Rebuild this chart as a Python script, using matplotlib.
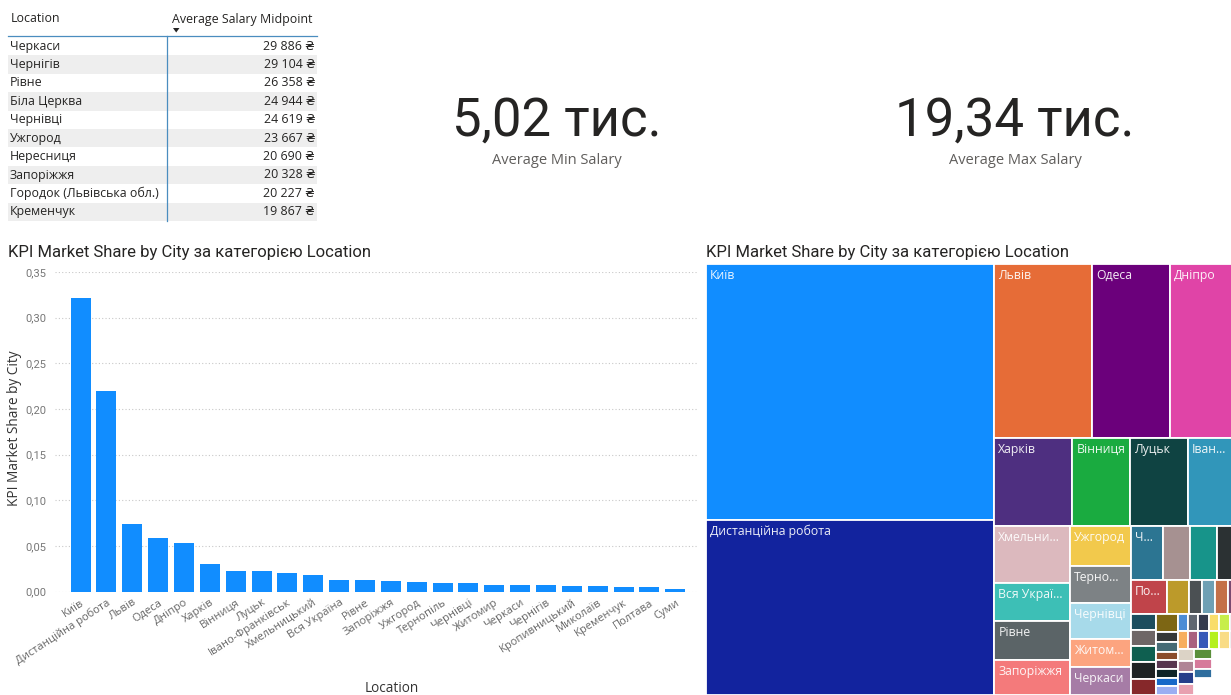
import matplotlib
matplotlib.use("Agg")
import matplotlib.pyplot as plt
from matplotlib.patches import Rectangle, Polygon

# ---------------- data ----------------
table_locations = ["Черкаси", "Чернігів", "Рівне", "Біла Церква", "Чернівці",
                   "Ужгород", "Нересниця", "Запоріжжя", "Городок (Львівська обл.)",
                   "Кременчук"]
table_salary = [29886, 29104, 26358, 24944, 24619, 23667, 20690, 20328, 20227, 19867]

avg_min_salary = 5020
avg_max_salary = 19340

bar_cities = ["Київ", "Дистанційна робота", "Львів", "Одеса", "Дніпро", "Харків",
              "Вінниця", "Луцьк", "Івано-Франківськ", "Хмельницький", "Вся Україна",
              "Рівне", "Запоріжжя", "Ужгород", "Тернопіль", "Чернівці", "Житомир",
              "Черкаси", "Чернігів", "Кропивницький", "Миколаїв", "Кременчук",
              "Полтава", "Суми"]
bar_share = [0.3215, 0.220, 0.074, 0.059, 0.053, 0.030, 0.0223, 0.0223, 0.020,
             0.0186, 0.0128, 0.0128, 0.0116, 0.0106, 0.0096, 0.0096, 0.0074,
             0.0074, 0.0074, 0.0064, 0.0064, 0.0053, 0.0053, 0.0032]

other_cities = ["Біла Церква", "Кривий Ріг", "Бровари", "Ірпінь", "Мукачево",
                "Херсон", "Кам'янець-Подільський", "Дрогобич", "Бориспіль", "Ковель",
                "Нересниця", "Городок (Львівська обл.)", "Стрий", "Умань", "Бердичів",
                "Буча", "Вишгород", "Обухів", "Фастів", "Коломия", "Калуш",
                "Нововолинськ", "Червоноград", "Самбір", "Трускавець", "Ніжин",
                "Прилуки", "Шостка", "Конотоп", "Охтирка", "Олександрія",
                "Світловодськ", "Кременець", "Чортків", "Хуст", "Берегове", "Ізмаїл",
                "Чорноморськ", "Южне", "Павлоград", "Кам'янське", "Нікополь",
                "Жовті Води", "Бахмут", "Лубни", "Мелітополь"]
other_share = [0.0019, 0.0019, 0.0019, 0.0018, 0.0018, 0.0018, 0.0018, 0.0018,
               0.0018, 0.0017, 0.0009, 0.0009, 0.0008, 0.0008, 0.0008, 0.0008,
               0.0008, 0.0008, 0.0008, 0.0008, 0.0008, 0.0008, 0.0008, 0.0008,
               0.0008, 0.0008, 0.0008, 0.0008, 0.0008, 0.0008, 0.0008, 0.0008,
               0.0008, 0.0008, 0.0008, 0.0007, 0.0007, 0.0007, 0.0007, 0.0007,
               0.0007, 0.0007, 0.0007, 0.0007, 0.0007, 0.0007]

tree_colors = ["#118DFF", "#12239E", "#E66C37", "#6B007B", "#E044A7", "#4E2F80",
               "#1AAB40", "#0F4342", "#3196BA", "#DCB9BE", "#3DBFB6", "#5B6467",
               "#F47A7B", "#F2C94C", "#7D8285", "#A7DAEA", "#FCA47F", "#A67CA6",
               "#2C7592", "#A69191", "#17948A", "#2B3133", "#C0444A", "#BC9A2A",
               "#4B5053", "#6FA0B4", "#C47048", "#7A4A70", "#1D4D5E", "#6E6666",
               "#0F5F50", "#1E2224", "#86282A", "#7D6614", "#353838", "#456B75",
               "#8A4C2C", "#57354F", "#0E2428", "#1769C8", "#9BAEF2", "#4A8CD6",
               "#5F6670", "#343B4E", "#F9DD6A", "#C7EE4A", "#8A8C8E", "#F7AE5E",
               "#A9607F", "#3558B8", "#B4F01E", "#F9DC86", "#6A6E74", "#DCD3C6",
               "#B08496", "#263E8A", "#E8A0B0", "#5A8F3A", "#D67A9B", "#2F6E9E"]

TITLE = "KPI Market Share by City за категорією Location"

# ---------------- style ----------------
UI_FONT = ["Open Sans", "DejaVu Sans"]
DIN_FONT = ["Roboto", "DejaVu Sans"]
plt.rcParams["font.family"] = UI_FONT

W, H = 1231, 695
fig = plt.figure(figsize=(W / 100, H / 100), dpi=100)
fig.patch.set_facecolor("white")


def fx(px):
    return px / W


def fy(py):
    return 1 - py / H


# ---------------- table ----------------
row_top, row_h = 37.0, 18.4
tbl_left, tbl_right, tbl_split = 8, 317, 166.5
TFS = 8.9
for i, (loc, sal) in enumerate(zip(table_locations, table_salary)):
    top = row_top + row_h * i
    if i % 2 == 1:
        fig.add_artist(Rectangle((fx(tbl_left), fy(top + row_h)),
                                 fx(tbl_right - tbl_left), row_h / H,
                                 transform=fig.transFigure, facecolor="#EEEEEE",
                                 edgecolor="none", zorder=0))
    yc = fy(top + row_h / 2)
    fig.text(fx(10), yc, loc, fontsize=TFS, color="#252423", ha="left", va="center")
    sal_txt = f"{sal:,}".replace(",", " ") + " ₴"
    fig.text(fx(315), yc, sal_txt, fontsize=TFS, color="#252423", ha="right",
             va="center")

fig.text(fx(11), fy(19), "Location", fontsize=TFS, color="#252423", ha="left",
         va="center")
fig.text(fx(312), fy(19), "Average Salary Midpoint", fontsize=TFS, color="#252423",
         ha="right", va="center")
fig.add_artist(plt.Line2D([fx(tbl_left), fx(tbl_right)], [fy(35.5), fy(35.5)],
                          transform=fig.transFigure, color="#4A8DBF", lw=0.9))
fig.add_artist(plt.Line2D([fx(tbl_split), fx(tbl_split)],
                          [fy(35.5), fy(row_top + row_h * len(table_locations))],
                          transform=fig.transFigure, color="#4A8DBF", lw=0.9))
fig.add_artist(Polygon([(fx(173), fy(28)), (fx(179.5), fy(28)), (fx(176.2), fy(32.5))],
                       closed=True, transform=fig.transFigure, facecolor="#252423",
                       edgecolor="none"))

# ---------------- KPI cards ----------------
def thousands(v):
    return f"{v / 1000:.2f}".replace(".", ",") + " тис."


for cx, val, lab in [(557, avg_min_salary, "Average Min Salary"),
                     (1015, avg_max_salary, "Average Max Salary")]:
    fig.text(fx(cx), fy(121), thousands(val), fontsize=38, color="#252423",
             ha="center", va="center", family=DIN_FONT)
    fig.text(fx(cx), fy(160), lab, fontsize=10.5, color="#605E5C", ha="center",
             va="center")

# ---------------- bar chart ----------------
fig.text(fx(8), fy(252), TITLE, fontsize=12, color="#252423", ha="left",
         va="center", family=DIN_FONT)

ax = fig.add_axes([fx(55), fy(591.7), fx(642), 319.7 / H])
xs = list(range(len(bar_cities)))
ax.bar(xs, bar_share, width=0.77, color="#118DFF", zorder=2)
ax.set_xlim(-0.99, 23.84)
ax.set_ylim(0, 0.35)
yt = [0, 0.05, 0.10, 0.15, 0.20, 0.25, 0.30, 0.35]
ax.set_yticks(yt)
ax.set_yticklabels([f"{v:.2f}".replace(".", ",") for v in yt], family=DIN_FONT,
                   fontsize=8, color="#777777")
ax.set_xticks(xs)
ax.set_xticklabels(bar_cities, rotation=33, ha="right", rotation_mode="anchor",
                   fontsize=8, color="#666666")
ax.tick_params(length=0, pad=4)
ax.tick_params(axis="y", pad=6)
for s in ax.spines.values():
    s.set_visible(False)
ax.grid(axis="y", color="#C8C8C8", linestyle=(0, (1, 2)), lw=0.8, zorder=0)
ax.set_axisbelow(True)
fig.text(fx(15), fy(428), "KPI Market Share by City", rotation=90, fontsize=9.8,
         color="#333333", ha="center", va="center")
fig.text(fx(392), fy(689), "Location", fontsize=9.8, color="#333333", ha="center",
         va="center")

# ---------------- treemap ----------------
fig.text(fx(706), fy(252), TITLE, fontsize=12, color="#252423", ha="left",
         va="center", family=DIN_FONT)

TW, TH = 534.0, 431.0
VISIBLE_W = W - 706  # part of the treemap that lies inside the canvas
tx = fig.add_axes([fx(706), fy(695), TW / W, TH / H])
tx.set_xlim(0, TW)
tx.set_ylim(TH, 0)
tx.axis("off")

PHI = (1 + 5 ** 0.5) / 2


def squarify(vals, x0, y0, x1, y1, ratio=PHI):
    """Squarified treemap (golden-ratio variant), rows laid out from top-left."""
    rects = []
    n = len(vals)
    i0 = i1 = 0
    value = sum(vals)
    while i0 < n:
        dx, dy = x1 - x0, y1 - y0
        sum_v = vals[i1]
        i1 += 1
        min_v = max_v = sum_v
        alpha = max(dy / dx, dx / dy) / (value * ratio)
        beta = sum_v * sum_v * alpha
        min_ratio = max(max_v / beta, beta / min_v)
        while i1 < n:
            v = vals[i1]
            s = sum_v + v
            mn, mx = min(min_v, v), max(max_v, v)
            beta = s * s * alpha
            new_ratio = max(mx / beta, beta / mn)
            if new_ratio > min_ratio:
                break
            sum_v, min_v, max_v, min_ratio = s, mn, mx, new_ratio
            i1 += 1
        row = vals[i0:i1]
        if dx < dy:
            yb = y0 + dy * sum_v / value
            xx = x0
            for v in row:
                w = dx * v / sum_v
                rects.append((xx, y0, w, yb - y0))
                xx += w
            y0 = yb
        else:
            xb = x0 + dx * sum_v / value
            yy = y0
            for v in row:
                h = dy * v / sum_v
                rects.append((x0, yy, xb - x0, h))
                yy += h
            x0 = xb
        value -= sum_v
        i0 = i1
    return rects


tree_names = bar_cities + other_cities
tree_vals = bar_share + other_share
rects = squarify(tree_vals, 0, 0, TW, TH)

renderer = fig.canvas.get_renderer()
LFS = 8.8


def text_w(t):
    tt = tx.text(0, 0, t, fontsize=LFS)
    w = tt.get_window_extent(renderer).width
    tt.remove()
    return w


for (x, y, w, h), name, col in zip(rects, tree_names, tree_colors):
    tx.add_patch(Rectangle((x, y), w, h, facecolor=col, edgecolor="white", lw=1.3))
    if w < 28 or h < 22:
        continue
    avail = min(w - 8, VISIBLE_W - x - 6)
    label = name
    if text_w(label) > avail:
        label = None
        for k in range(len(name) - 1, 0, -1):
            cand = name[:k].rstrip() + "..."
            if text_w(cand) <= avail:
                label = cand
                break
    if label:
        tx.text(x + 4, y + 5, label, fontsize=LFS, color="white", ha="left",
                va="top", alpha=0.92)

fig.savefig("out.png", dpi=100, facecolor="white")
